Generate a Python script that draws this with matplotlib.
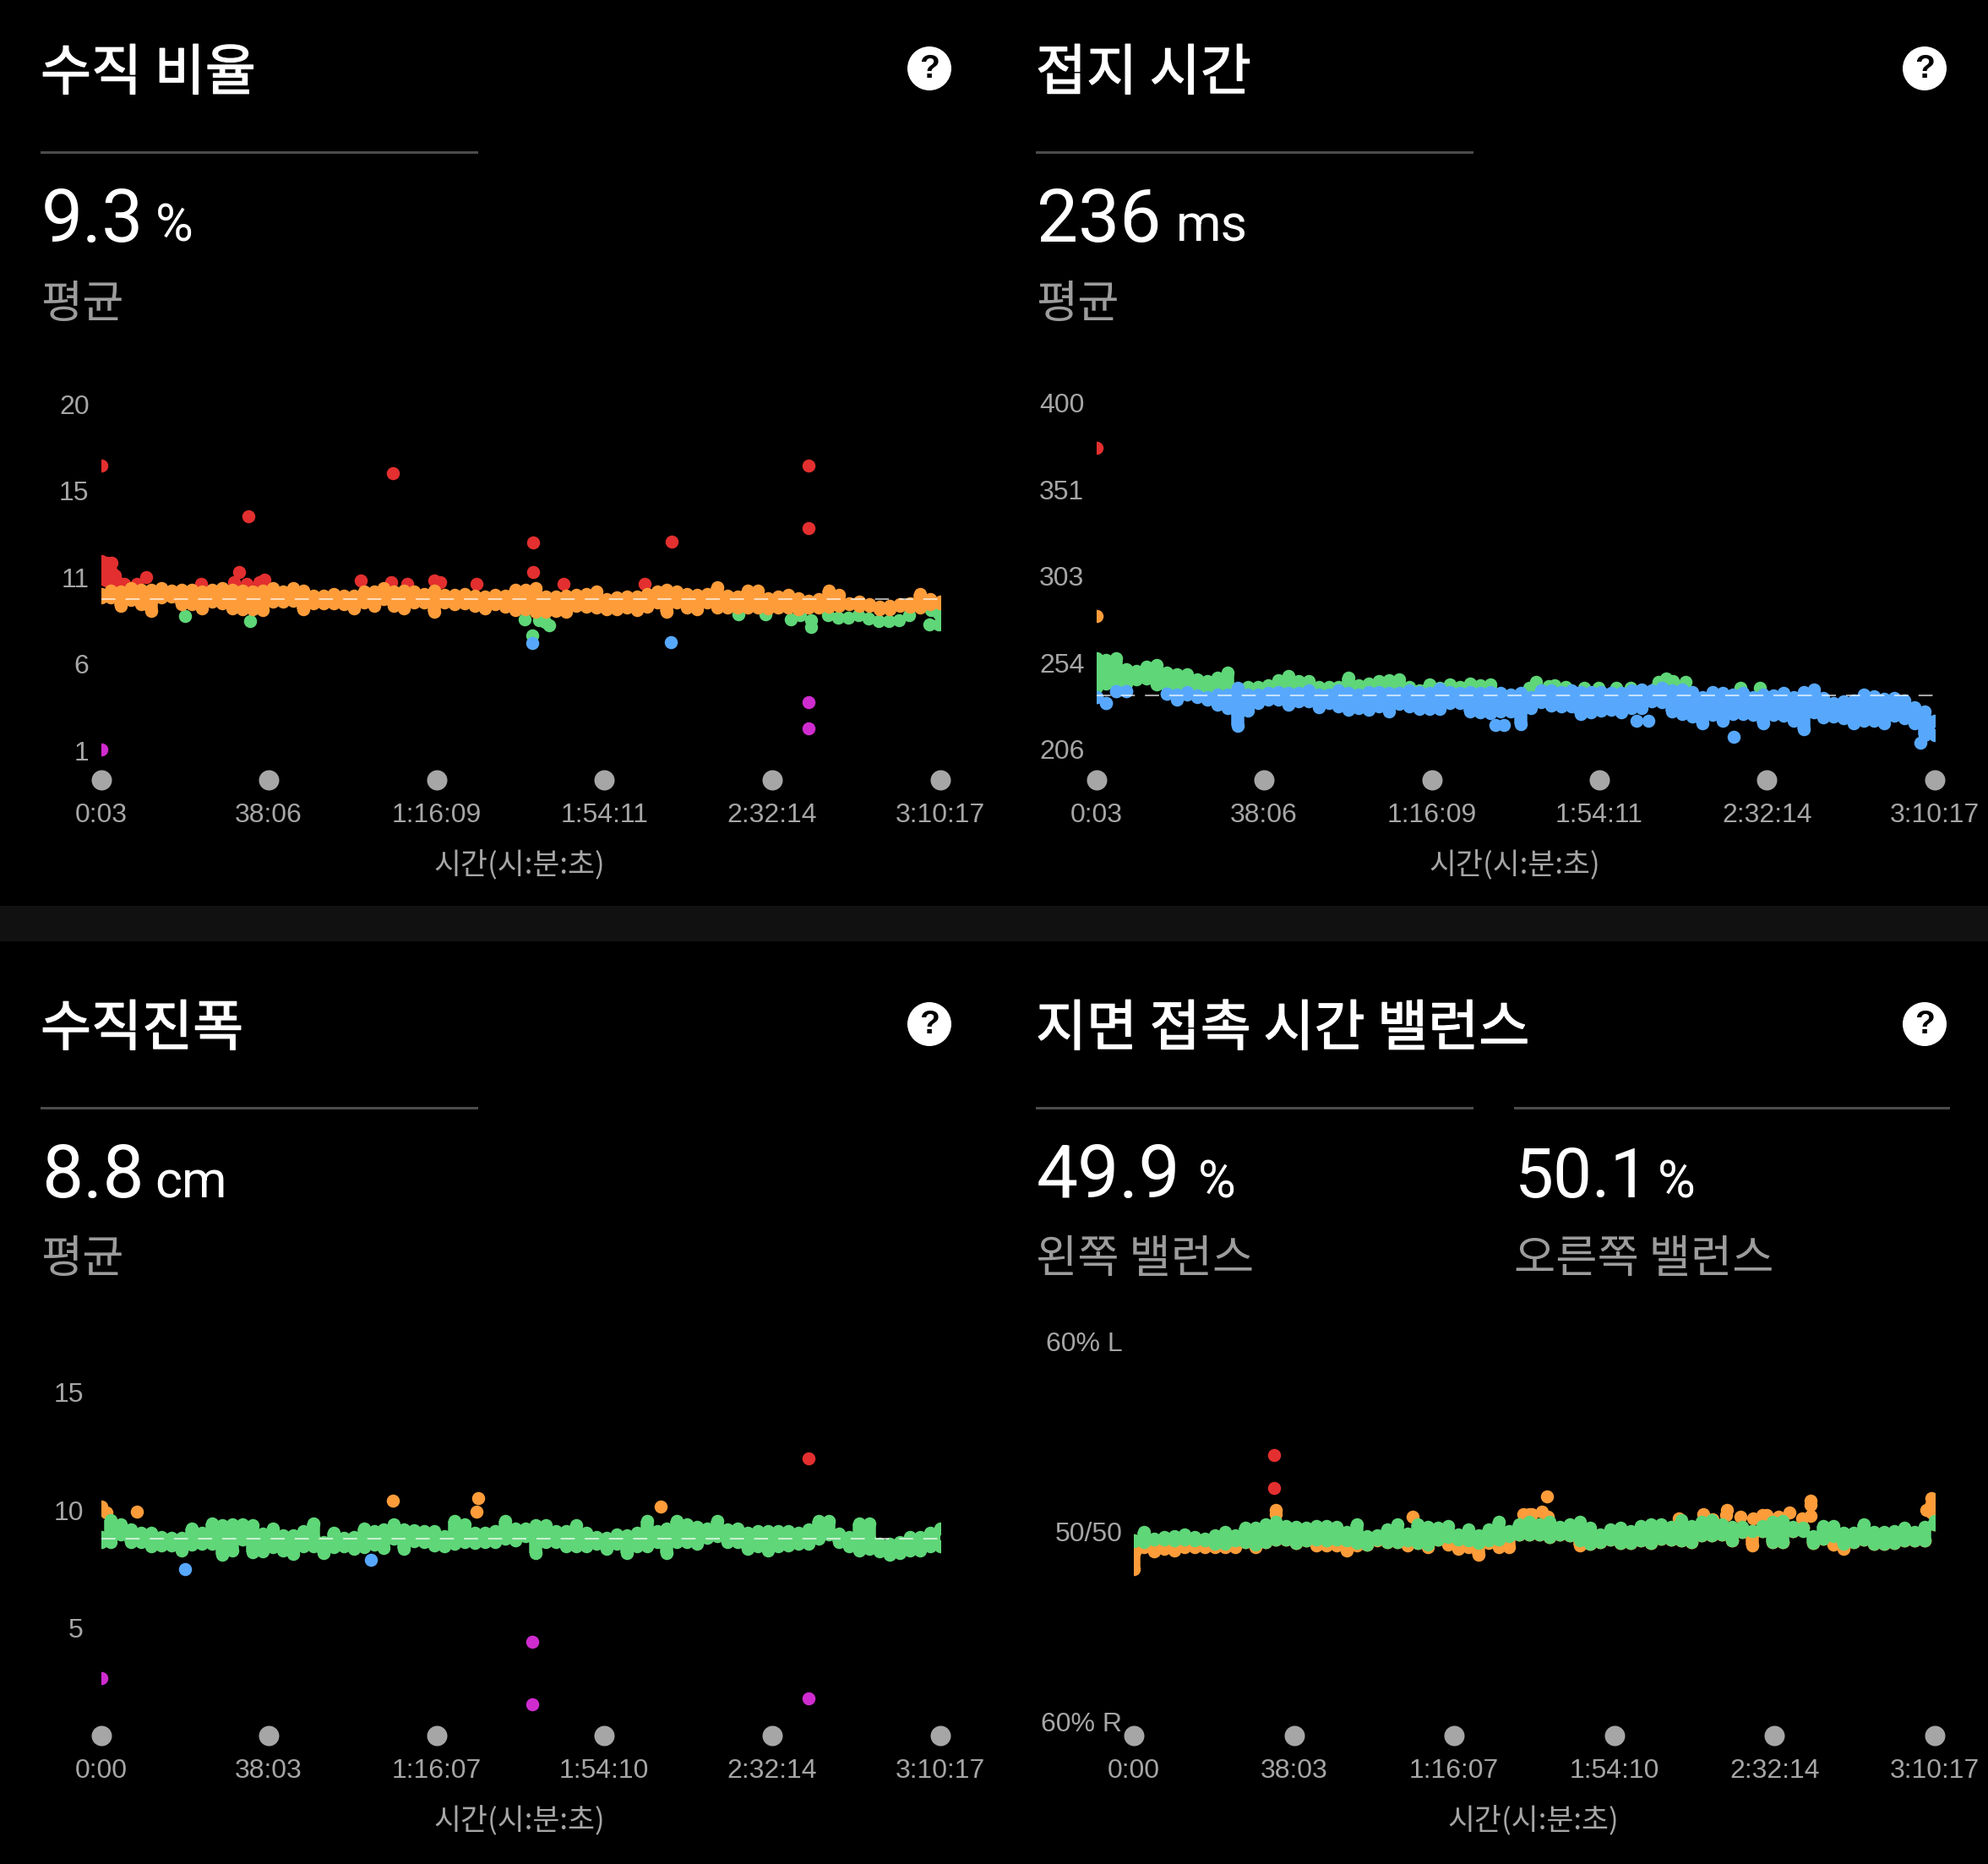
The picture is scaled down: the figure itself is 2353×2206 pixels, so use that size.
#!/usr/bin/env python3
"""Running dynamics dashboard: four dot strips over elapsed time, dark theme."""

import numpy as np
import matplotlib
matplotlib.use('Agg')
import matplotlib.pyplot as plt
import matplotlib.patheffects as pe
from matplotlib.patches import Circle, Rectangle
from matplotlib.transforms import Affine2D

W, H = 2353, 2206
FONT = ['Liberation Sans', 'Noto Sans CJK KR']
KR = ['Noto Sans CJK KR', 'Liberation Sans']
NUM = ['Roboto', 'Liberation Sans']
nan = float('nan')

ORANGE = '#fe9c3a'
RED = '#e32f2f'
GREEN = '#5fd678'
BLUE = '#57a8fd'
MAGENTA = '#cf2ccf'
GREY = '#a6a6a6'
DOT_PX = 15.5

TOP_TIMES = ['0:03', '38:06', '1:16:09', '1:54:11', '2:32:14', '3:10:17']
BOTTOM_TIMES = ['0:00', '38:03', '1:16:07', '1:54:10', '2:32:14', '3:10:17']
X_TITLE = '시간(시:분:초)'

# --- vertical ratio (%) : spread of readings per time bucket
ratio_orange_hi = [9.4, 9.75, 9.7, 9.9, 9.8, 9.8, 9.9, 9.75, 9.8, 9.8, 9.7, 9.8, 9.9, 9.8, 9.75, 9.7,
                   9.75, 9.9, 9.7, 9.9, 9.75, 9.5, 9.5, 9.6, 9.5, 9.5, 9.7, 9.7, 9.9, 9.7, 9.75, 9.7,
                   9.6, 9.75, 9.55, 9.55, 9.6, 9.5, 9.45, 9.55, 9.5, 9.8,
                   9.8, 9.9, 9.45, 9.45, 9.5, 9.55, 9.6, 9.7, 9.3, 9.4, 9.45, 9.45, 9.6, 9.7, 9.8, 9.7,
                   9.6, 9.55, 9.6, 9.95, 9.5, 9.45, 9.75, 9.75, 9.35, 9.45, 9.55, 9.35, 9.2, 9.3, 9.75,
                   9.55, 9.05, 9.15, 9.0, 8.75, 8.75, 9.0, 9.05, 9.6, 9.3, 9.05]
ratio_orange_lo = [9.6, 9.4, 8.95, 9.25, 9.0, 8.65, 9.4, 9.45, 9.0, 9.0, 8.8, 9.15, 9.05, 8.8, 8.75, 8.75,
                   8.7, 9.15, 9.15, 9.2, 8.75, 9.05, 9.05, 9.05, 9.0, 8.8, 9.1, 8.95, 9.3, 8.95, 8.8, 9.1,
                   9.1, 8.6, 9.1, 9.0, 9.05, 8.95, 8.8, 9.0, 8.9, 8.7,
                   8.75, 8.6, 8.6, 8.65, 8.6, 8.95, 8.9, 8.85, 8.75, 8.75, 8.85, 8.7, 8.9, 9.1, 8.6, 9.1,
                   8.85, 8.75, 9.1, 8.85, 8.85, 8.85, 8.85, 8.85, 8.8, 8.85, 8.85, 8.75, 8.85, 8.85, 8.9,
                   8.95, 9.0, 8.95, 8.95, 8.9, 8.95, 8.95, 8.9, 8.85, 9.0, 9.15]
ratio_red_t = [3, 3, 3, 80, 80, 80, 147, 147, 147, 190, 250, 316, 488, 615, 1369, 1811, 1880, 1983, 2156,
               2232, 3536, 3957, 4168, 4540, 4617, 5107, 6293, 7400,
               3, 2010, 3970, 5885, 5885, 7772, 9634, 9634]
ratio_red_v = [11.4, 10.9, 10.4, 11.3, 10.8, 10.3, 11.3, 10.8, 10.3, 10.6, 10.2, 10.15, 10.15, 10.5, 10.15,
               10.25, 10.77, 10.15, 10.25, 10.35, 10.3, 10.25, 10.15, 10.3, 10.25, 10.15, 10.15, 10.15,
               16.6, 13.85, 16.2, 12.4, 10.8, 12.45, 16.6, 13.2]
ratio_green_t = [1143, 2030, 5767, 5874, 5966, 6042, 6100, 8670, 9040, 9385, 9520, 9660, 9660, 9899, 10037,
                 10175, 10313, 10451, 10589, 10727, 10865, 11003, 11276, 11300, 11400, 11400]
ratio_green_v = [8.37, 8.1, 8.17, 7.3, 8.15, 8.05, 7.85, 8.45, 8.45, 8.2, 8.4, 7.75, 8.15, 8.4, 8.3, 8.3,
                 8.4, 8.25, 8.1, 8.1, 8.15, 8.4, 7.9, 8.7, 7.9, 8.5]
ratio_blue_t = [5873, 7760]
ratio_blue_v = [6.9, 6.93]
ratio_magenta_t = [3, 9634, 9634]
ratio_magenta_v = [1.05, 3.65, 2.2]

# --- ground contact time (ms)
contact_green_hi = [257, 256, 257, 251, 250, 252, 253, 249, 248, 248, 245, 244, 246, 249, 240, 241, 241, 242,
                    244.5, 247, 244, 244, 241, 241, 241, 246, 242, 243, 244, 244.5, 245, 241, 239, 242.5,
                    240.5, 242.5, 241, 243, 242, 242.5]
contact_green_lo = [241, 243, 243, 243, 245, 245.5, 242.5, 241.5, 238, 238, 238, 238, 238, 238, 238, 238, 238,
                    238, 238, 238, 238, 238, 238, 238, 238, 238, 238, 238, 238, 238, 238, 238, 238, 238,
                    238, 238, 238, 238, 238, 238]
contact_blue_hi = [235, 232, 238.4, 238.4, nan, nan, nan, 237, 236.6, 236.6, 235, 235, 236.6, 236.6, 240.6,
                   236.6, 236.6, 237.4, 238.2, 237.4, 237.4, 239, 236.6, 236.6, 239, 237.4, 236.6, 238.2,
                   238.2, 237.4, 237.4, 239, 238.2, 237.4, 239.8, 238.2, 237.4, 238.2, 237.4, 238.2, 237.4,
                   236.6,
                   237.4, 235, 239, 239, 238.2, 239, 238.2, 238.2, 238.2, 237.4, 237.4, 239, 239.3, 239,
                   240.6, 239, 239.3, 238.2, 235, 238.2, 237.4, 236.6, 237.4, 235, 236.6, 236.2, 237.4, 235,
                   238.2, 239.3, 234.6, 231.9, 232.7, 233.5, 236.6, 235.5, 234.3, 234.6, 233.5, 229.5, 227.2,
                   222]
contact_blue_lo = [235, 232, 238.4, 238.4, nan, nan, nan, 237, 234, 238, 236, 234, 231, 229, 219, 227.5, 232,
                   234, 234, 231, 233, 233, 229.5, 232, 230, 228, 229, 228, 230, 227, 231.5, 230, 228.5,
                   228.5, 228.5, 232, 232, 227, 226.5, 226, 227, 227,
                   220, 229, 232.2, 230.6, 229.8, 229.8, 225.9, 226.7, 227.5, 228.3, 226.7, 229, 229, 233,
                   232.2, 227, 225.9, 224.3, 220.7, 225.1, 222, 225.9, 225.9, 225.1, 220.7, 225.1, 224.8,
                   222, 217, 226.7, 223.9, 224.3, 223.2, 220.7, 222, 222, 220.7, 224.8, 223.5, 220.4, 214,
                   214]
contact_green_t = [5897, 5993, 6165, 6242, 6395, 6644, 6836, 7078, 7277, 7620, 7660, 7757, 7852, 7966, 8024,
                   8772, 9040]
contact_green_v = [240.6, 243.7, 241.4, 241.8, 240.9, 240.6, 240.6, 240.6, 240.6, 240.6, 243.7, 245.6, 244,
                   240.6, 243.7, 240.6, 240.6]
contact_blue_t = [5437, 5552, 7357, 7515, 8677, 11223]
contact_blue_v = [219.8, 219.8, 222.1, 222.1, 213.1, 209.7]
contact_orange_t = [3]
contact_orange_v = [280.6]
contact_red_t = [3]
contact_red_v = [375]

# --- vertical oscillation (cm)
osc_green_hi = [8.87, 9.59, 9.41, 9.17, 9.05, 9.05, 8.87, 8.84, 8.81, 9.23, 9.05, 9.43, 9.35, 9.41, 9.41, 9.35,
                8.99, 9.23, 8.93, 8.93, 9.11, 9.43, 8.63, 9.05, 8.84, 8.87, 9.23, 9.11, 9.19, 9.41, 9.17, 9.15,
                9.11, 9.11, 8.91, 9.53, 9.41, 9.05, 9.05, 9.11, 9.53, 9.23,
                9.23, 9.35, 9.35, 9.11, 9.11, 9.35, 9.05, 8.87, 8.81, 8.96, 8.93, 9.05, 9.53, 9.11, 9.23, 9.53,
                9.41, 9.29, 9.23, 9.53, 9.17, 9.23, 9.05, 9.11, 9.11, 9.11, 9.11, 9.05, 9.17, 9.53, 9.53, 8.99,
                8.87, 9.43, 9.43, 8.57, 8.57, 8.63, 8.87, 8.87, 9.05, 9.23]
osc_green_lo = [8.66, 8.66, 8.96, 8.66, 8.66, 8.48, 8.5, 8.5, 8.3, 8.54, 8.57, 8.57, 8.1, 8.3, 8.74, 8.21, 8.24,
                8.42, 8.3, 8.14, 8.45, 8.45, 8.18, 8.42, 8.45, 8.36, 8.42, 8.54, 8.38, 8.78, 8.36, 8.69, 8.66,
                8.5, 8.48, 8.57, 8.66, 8.6, 8.66, 8.66, 8.78, 8.72,
                8.9, 8.18, 8.66, 8.66, 8.48, 8.48, 8.48, 8.57, 8.36, 8.57, 8.18, 8.48, 8.48, 8.66, 8.18, 8.66,
                8.66, 8.57, 8.84, 8.9, 8.66, 8.66, 8.36, 8.48, 8.3, 8.48, 8.5, 8.57, 8.57, 8.78, 8.96, 8.66,
                8.48, 8.3, 8.36, 8.24, 8.1, 8.18, 8.3, 8.3, 8.48, 8.48]
osc_orange_t = [0, 70, 486, 3973, 5112, 5131, 7615]
osc_orange_v = [10.14, 9.9, 9.93, 10.41, 9.93, 10.51, 10.16]
osc_blue_t = [1144, 3674]
osc_blue_v = [7.5, 7.89]
osc_red_t = [9630]
osc_red_v = [12.2]
osc_magenta_t = [0, 5870, 5870, 9630]
osc_magenta_v = [2.88, 4.43, 1.76, 2.0]

# --- ground contact balance (% left, 50 = even)
bal_green_hi = [49.5, 50, 49.65, 49.7, 49.75, 49.85, 49.7, 49.65, 49.8, 50, 49.8, 50.2, 50.2, 50.4, 50.5, 50.3,
                50.25, 50.2, 50.3, 50.3, 50.25, 50, 50.4, 49.75, 49.8, 50.1, 50.4, 49.9, 50.4, 50.25, 50.2, 50.3,
                49.85, 50.1, 49.8, 50.1, 50.5, 50.05, 50.4, 50.5,
                50.4, 50.5, 50.25, 50.4, 50.5, 50.2, 49.85, 50.1, 50.2, 50.05, 50.3, 50.4, 50.4, 50.25, 50.6, 50.3,
                50.5, 50.6, 50.4, 50.25, 50.25, 50.05, 50.3, 50.5, 50.55, 50.25, 50.05, 49.75, 50.3, 50.3, 49.95,
                49.95, 50.4, 50, 50, 50.05, 50.2, 50, 50.25, 50.55]
bal_green_lo = [49.55, 49.45, 49.6, 49.6, 49.55, 49.6, 49.55, 49.55, 49.35, 49.35, 49.55, 49.45, 49.3, 49.45, 49.6,
                49.6, 49.4, 49.55, 49.6, 49.55, 49.6, 49.55, 49.4, 49.3, 49.6, 49.45, 49.45, 49.55, 49.4, 49.3, 49.6,
                49.7, 49.6, 49.55, 49.4, 49.55, 49.6, 49.75, 49.85, 49.85,
                49.85, 49.7, 49.85, 49.8, 49.55, 49.35, 49.45, 49.6, 49.4, 49.4, 49.55, 49.4, 49.65, 49.6, 49.55,
                49.45, 49.8, 49.8, 49.85, 49.55, 50, 50.05, 50.05, 49.45, 49.45, 50.05, 50.2, 49.4, 49.65, 49.75,
                49.35, 49.45, 49.6, 49.35, 49.35, 49.4, 49.55, 49.55, 49.55, 50.4]
bal_orange_lo = [48.05, 49.17, 48.95, 49.1, 49, 49.17, 49.17, 49.2, 49.17, 49.17, 49.2, 49.45, 49.2, 49.45, 49.6,
                 49.6, 49.4, 49.55, 49.27, 49.27, 49.27, 49, 49.27, 49.3, 49.55, 49.45, 49.45, 49.27, 49.4, 49.2,
                 49.6, 49.3, 49.1, 49.2, 48.8, 49.4, 49.2, 49.2, 49.85, 49.85,
                 49.85, 49.7, 49.85, 49.8, 49.27, 49.35, 49.45, 49.6, 49.4, 49.4, 49.55, 49.4, 49.65, 49.6, 49.55,
                 49.45, 49.8, 49.8, 49.85, 49.55, 50, 49.27, 50.05, 49.45, 49.45, 50.05, 50.2, 49.4, 49.65, 49.3,
                 49.1, 49.45, 49.6, 49.35, 49.35, 49.4, 49.55, 49.55, 49.55, 50.4]
bal_orange_t = [2023, 2023, 3969, 5555, 5635, 5667, 5815, 5884, 5905, 7771, 8115, 8244, 8444, 8456, 8645, 8825,
                8958, 9025, 9186, 9347, 9528, 9648, 9648, 9648, 11301, 11374, 11374, 11374]
bal_orange_v = [51.16, 50.93, 50.79, 50.93, 50.93, 50.93, 51.04, 51.85, 50.79, 50.71, 50.93, 50.64, 50.86, 51.13,
                50.79, 50.71, 50.89, 50.86, 50.79, 51, 50.71, 51.63, 51.42, 50.83, 51.16, 51.75, 51.45, 51]
bal_red_t = [2005, 2005]
bal_red_v = [54.03, 52.3]


def to_seconds(label):
    secs = 0
    for part in label.split(':'):
        secs = secs * 60 + int(part)
    return secs


def dots(ax, t, v, color, z):
    ax.scatter(t, v, s=(DOT_PX * 0.72) ** 2, color=color, linewidths=0, zorder=z)


def band(ax, t, hi, lo, color, z):
    # end dots, a bar between them and a fill across buckets, so the overlap reads as one mass
    dots(ax, t, hi, color, z)
    dots(ax, t, lo, color, z)
    ax.vlines(t, lo, hi, colors=color, linewidth=DOT_PX * 0.72, capstyle='butt', zorder=z)
    ax.fill_between(t, lo, hi, color=color, linewidth=0, zorder=z)


def make_axes(fig, left, right, top, bottom, times, ref_px, ref_val, px_per_unit, ticks, labels, pad_px):
    ax = fig.add_axes([left / W, 1 - bottom / H, (right - left) / W, (bottom - top) / H])
    ax.set_facecolor('none')
    secs = [to_seconds(s) for s in times]
    ax.set_xlim(secs[0], secs[-1])
    ax.set_ylim(ref_val - (bottom - ref_px) / px_per_unit, ref_val + (ref_px - top) / px_per_unit)
    for side in ax.spines.values():
        side.set_visible(False)
    ax.set_xticks(secs, times)
    ax.set_yticks(ticks, labels)
    ax.tick_params(axis='x', length=0, pad=19.5, labelsize=23, labelcolor=GREY)
    ax.tick_params(axis='y', length=0, pad=pad_px * 0.72, labelsize=23, labelcolor=GREY)
    ax.plot(secs, [0] * len(secs), 'o', ms=24 * 0.72, mew=0, color=GREY,
            transform=ax.get_xaxis_transform(), clip_on=False, zorder=5)
    return ax


def mean_line(ax, value):
    ax.axhline(value, color='white', alpha=0.65, lw=1.5, linestyle=(0, (12, 8.6)), zorder=6)


plt.rcParams['font.family'] = FONT
plt.rcParams['lines.scale_dashes'] = False
fig = plt.figure(figsize=(W / 100, H / 100), dpi=100, facecolor='black')
PX = Affine2D().scale(1, -1).translate(0, H)


def header(dx, dy, title, readouts):
    fig.text(48 + dx, 88 + dy, title, transform=PX, color='white', fontsize=47, family=KR, va='center',
             path_effects=[pe.withStroke(linewidth=1.0, foreground='white')])
    for rx, rw, number, num_size, unit_x, unit, caption in readouts:
        fig.add_artist(Rectangle((rx + dx, 179 + dy), rw, 2.5, color='#4c4c4c', transform=PX, lw=0))
        fig.text(rx + dx + 1, 286 + dy, number, transform=PX, color='white', fontsize=num_size,
                 family=NUM, va='baseline')
        fig.text(unit_x + dx, 286 + dy, unit, transform=PX, color='white', fontsize=44,
                 family=NUM, va='baseline')
        fig.text(rx + dx, 360 + dy, caption, transform=PX, color='#9c9c9c', fontsize=38.5, family=KR, va='center')
    fig.add_artist(Circle((1100 + dx, 81 + dy), 26, color='white', transform=PX, lw=0))
    fig.text(1100 + dx, 82 + dy, '?', transform=PX, color='black', fontsize=28, weight='bold',
             ha='center', va='center')


fig.add_artist(Rectangle((0, 1072), W, 42, color='#111111', transform=PX, lw=0))

header(0, 0, '수직 비율', [(48, 518, '9.3', 63, 184, '%', '평균')])
header(1178, 0, '접지 시간', [(48, 518, '236', 63, 214, 'ms', '평균')])
header(0, 1131, '수직진폭', [(48, 518, '8.8', 63, 183, 'cm', '평균')])
header(1178, 1131, '지면 접촉 시간 밸런스',
       [(48, 518, '49.9', 63, 240, '%', '왼쪽 밸런스'), (614, 516, '50.1', 59, 784, '%', '오른쪽 밸런스')])

# vertical ratio
ax = make_axes(fig, 119.5, 1112.5, 450, 923, TOP_TIMES, 709, 9.3, 410 / 19,
               [1, 5.75, 10.5, 15.25, 20], ['1', '6', '11', '15', '20'], 14)
grid = np.linspace(3, 11417, len(ratio_orange_hi))
dots(ax, ratio_green_t, ratio_green_v, GREEN, 2)
dots(ax, ratio_red_t, ratio_red_v, RED, 2)
band(ax, grid, ratio_orange_hi, ratio_orange_lo, ORANGE, 3)
dots(ax, ratio_blue_t, ratio_blue_v, BLUE, 2)
dots(ax, ratio_magenta_t, ratio_magenta_v, MAGENTA, 2)
mean_line(ax, 9.3)

# ground contact time
ax = make_axes(fig, 1297.5, 2290, 450, 923, TOP_TIMES, 823.3, 236, 410 / 194,
               [206, 254.5, 303, 351.5, 400], ['206', '254', '303', '351', '400'], 14)
grid = np.linspace(3, 11417, len(contact_blue_hi))
band(ax, grid[:len(contact_green_hi)], contact_green_hi, contact_green_lo, GREEN, 2)
dots(ax, contact_green_t, contact_green_v, GREEN, 2)
band(ax, grid, contact_blue_hi, contact_blue_lo, BLUE, 3)
dots(ax, contact_blue_t, contact_blue_v, BLUE, 3)
dots(ax, contact_orange_t, contact_orange_v, ORANGE, 3)
dots(ax, contact_red_t, contact_red_v, RED, 3)
mean_line(ax, 236)

# vertical oscillation
ax = make_axes(fig, 119.5, 1112.5, 1580, 2054, BOTTOM_TIMES, 1820.7, 8.8, 27.9,
               [5, 10, 15], ['5', '10', '15'], 20.5)
grid = np.linspace(0, 11417, len(osc_green_hi))
dots(ax, osc_orange_t, osc_orange_v, ORANGE, 2)
band(ax, grid, osc_green_hi, osc_green_lo, GREEN, 3)
dots(ax, osc_blue_t, osc_blue_v, BLUE, 2)
dots(ax, osc_red_t, osc_red_v, RED, 2)
dots(ax, osc_magenta_t, osc_magenta_v, MAGENTA, 2)
mean_line(ax, 8.8)

# contact balance
ax = make_axes(fig, 1342, 2290, 1570, 2054, BOTTOM_TIMES, 1812.7, 50, 22.5,
               [40, 50, 60], ['60% R', '50/50', '60% L'], 13.5)
grid = np.linspace(0, 11417, len(bal_green_hi))
band(ax, grid, bal_green_lo, bal_orange_lo, ORANGE, 2)
dots(ax, bal_orange_t, bal_orange_v, ORANGE, 2)
dots(ax, bal_red_t, bal_red_v, RED, 2)
band(ax, grid, bal_green_hi, bal_green_lo, GREEN, 3)

for cx, cy in [(615, 1024), (1793, 1024), (615, 2155), (1815, 2155)]:
    fig.text(cx, cy, X_TITLE, transform=PX, color=GREY, fontsize=25, family=KR, ha='center', va='center')

fig.savefig('out.png', dpi=100, facecolor='black')
plt.close(fig)
